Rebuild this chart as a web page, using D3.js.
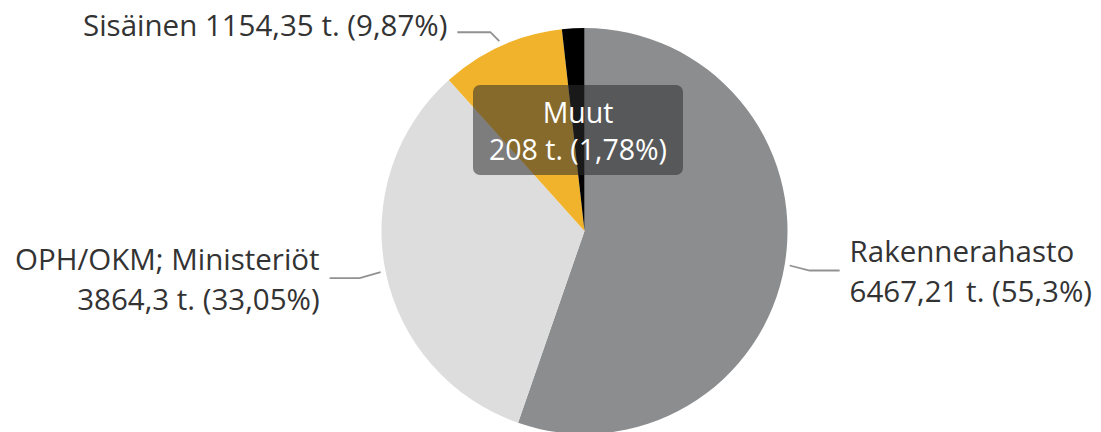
<!DOCTYPE html>
<html>
<head>
<meta charset="utf-8">
<script src="https://cdn.jsdelivr.net/npm/d3@7"></script>
<style>
  body { margin: 0; background: #fff; }
  text { font-family: "Open Sans", sans-serif; }
</style>
</head>
<body>
<svg id="chart"></svg>
<script>
// data
var names = ["Rakennerahasto", "OPH/OKM; Ministeriöt", "Sisäinen", "Muut"];
var amounts = [6467.21, 3864.3, 1154.35, 208];
var colors = ["#8b8d8e", "#dddddd", "#f1b32b", "#000000"];

var width = 1101, height = 432;
var cx = 584.5, cy = 231, radius = 203;

var svg = d3.select("#chart")
    .attr("width", width)
    .attr("height", height);

var total = d3.sum(amounts);
var data = names.map(function(n, i) {
  return { name: n, value: amounts[i], color: colors[i] };
});

// number formats, finnish decimal comma
function fmtValue(v) { return String(v).replace(".", ","); }
function fmtPct(v) {
  return (+(v * 100).toFixed(2)).toString().replace(".", ",") + "%";
}

var pie = d3.pie()
    .sort(null)
    .value(function(d) { return d.value; });

var arc = d3.arc().innerRadius(0).outerRadius(radius);
var outer = d3.arc().innerRadius(radius + 5).outerRadius(radius + 5);

var g = svg.append("g")
    .attr("transform", "translate(" + cx + "," + cy + ")");

var arcs = pie(data);

g.selectAll("path.slice")
    .data(arcs)
  .enter().append("path")
    .attr("class", "slice")
    .attr("d", arc)
    .attr("fill", function(d) { return d.data.color; });

// leader line layout: elbow offset, horizontal run, text gap
var layout = [
  { dx: 20, dy: 5, run: 30, side: 1, lines: 2, dyText: -9 },
  { dx: -21, dy: 6, run: -30, side: -1, lines: 2, dyText: -8 },
  { dx: -9, dy: -9, run: -33, side: -1, lines: 1, dyText: 4 },
  null
];

var lineH = 40;
var fontSize = "29.5px";

arcs.forEach(function(d, i) {
  var L = layout[i];
  if (!L) return;
  var p = outer.centroid(d);
  var e = [p[0] + L.dx, p[1] + L.dy];
  var q = [e[0] + L.run, e[1]];
  g.append("path")
      .attr("d", d3.line()([p, e, q]))
      .attr("fill", "none")
      .attr("stroke", "#919191")
      .attr("stroke-width", 1.8);

  var tx = q[0] + L.side * 10;
  var t = g.append("text")
      .attr("x", tx)
      .attr("y", q[1] + L.dyText)
      .attr("text-anchor", L.side > 0 ? "start" : "end")
      .attr("fill", "#333333")
      .style("font-size", fontSize);
  var first = d.data.name, second = fmtValue(d.data.value) + " t. (" + fmtPct(d.data.value / total) + ")";
  if (L.lines === 1) {
    t.text(first + " " + second);
  } else {
    t.append("tspan").attr("x", tx).attr("dy", 0).text(first);
    t.append("tspan").attr("x", tx).attr("dy", lineH).text(second);
  }
});

// tooltip style box for the smallest slice
var muut = arcs[3];
var boxW = 210, boxH = 90;
var bx = -6.5 - boxW / 2, by = 85 - cy;
g.append("rect")
    .attr("x", bx).attr("y", by)
    .attr("width", boxW).attr("height", boxH)
    .attr("rx", 7)
    .attr("fill", "#2e2e2e")
    .attr("fill-opacity", 0.55);

var mt = g.append("text")
    .attr("text-anchor", "middle")
    .attr("fill", "#ffffff")
    .style("font-size", "28.5px");
mt.append("tspan").attr("x", bx + boxW / 2).attr("y", by + 38).text(muut.data.name);
mt.append("tspan").attr("x", bx + boxW / 2).attr("y", by + 75)
    .text(fmtValue(muut.data.value) + " t. (" + fmtPct(muut.data.value / total) + ")");
</script>
</body>
</html>
